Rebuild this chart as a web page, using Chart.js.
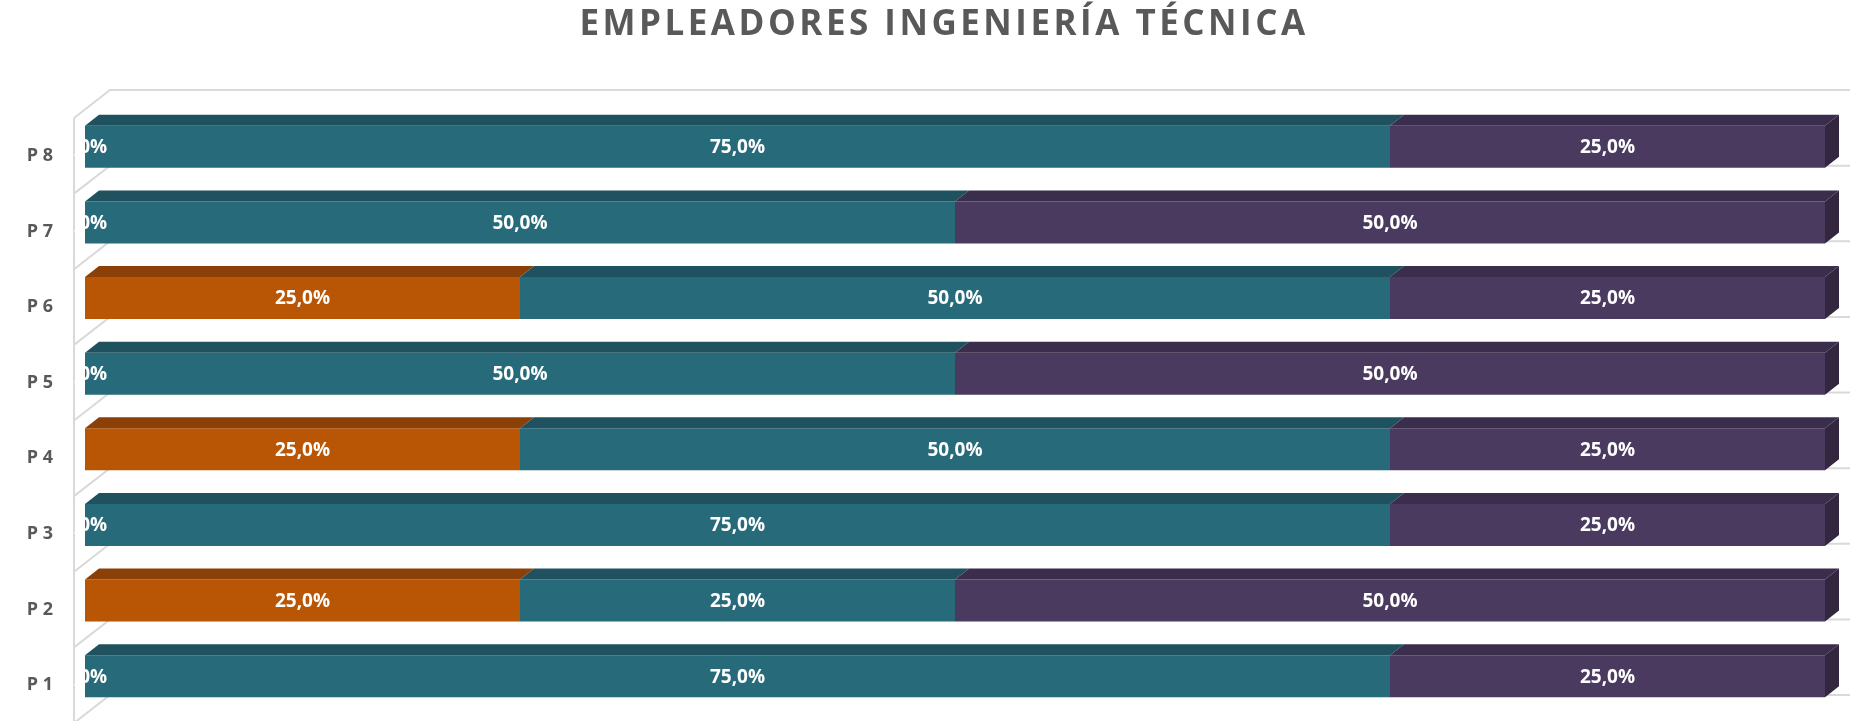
<!DOCTYPE html>
<html>
<head>
<meta charset="utf-8">
<script src="https://cdn.jsdelivr.net/npm/chart.js@4/dist/chart.umd.min.js"></script>
<style>
  html, body { margin: 0; padding: 0; background: #fff; }
  #wrap { width: 1850px; height: 721px; }
</style>
</head>
<body>
<div id="wrap"><canvas id="chart"></canvas></div>
<script>
// Data
const categories = ['P 1', 'P 2', 'P 3', 'P 4', 'P 5', 'P 6', 'P 7', 'P 8'];
const serieNaranja = [0, 25, 0, 25, 0, 25, 0, 0];
const serieVerde = [75, 25, 75, 50, 50, 50, 50, 75];
const serieMorada = [25, 50, 25, 25, 50, 25, 50, 25];

const TITLE = 'EMPLEADORES INGENIERÍA TÉCNICA';

// colores: frente, cara superior, lateral
const COLORS = [
    { front: '#b85606', top: '#8a4006', side: '#7a3905' },
    { front: '#276a7a', top: '#1f525e', side: '#1b4650' },
    { front: '#4b3a60', top: '#3b2d4c', side: '#33273f' }
];
const DEPTH = { dx: 14, dy: 11 };        // profundidad de las barras
const WALL = { dx: 36, dy: 28, off: 9 }; // profundidad del fondo

const fmt = v => v.toFixed(1).replace('.', ',') + '%';

// Fondo 3D (pared izquierda + lineas de separacion)
const wallPlugin = {
    id: 'wall',
    beforeDatasetsDraw(chart) {
        const { ctx, chartArea: a } = chart;
        const n = categories.length;
        const band = (a.bottom - a.top) / n;
        const xf = a.left - 11;
        ctx.save();
        ctx.strokeStyle = '#d9d9d9';
        ctx.lineWidth = 2;
        ctx.beginPath();
        ctx.moveTo(xf, a.top + WALL.off);
        ctx.lineTo(xf, chart.height + 5);
        for (let k = 0; k <= n; k++) {
            const yf = a.top + WALL.off + k * band;
            ctx.moveTo(xf, yf);
            ctx.lineTo(xf + WALL.dx, yf - WALL.dy);
            ctx.lineTo(chart.width + 5, yf - WALL.dy);
        }
        ctx.stroke();
        ctx.restore();
    }
};

// Caras superiores y lateral de las barras
const bars3dPlugin = {
    id: 'bars3d',
    afterDatasetsDraw(chart) {
        const { ctx } = chart;
        const last = chart.data.datasets.length - 1;
        ctx.save();
        chart.data.datasets.forEach((ds, di) => {
            const meta = chart.getDatasetMeta(di);
            meta.data.forEach(bar => {
                const x0 = Math.min(bar.base, bar.x), x1 = Math.max(bar.base, bar.x);
                const top = bar.y - bar.height / 2, bottom = bar.y + bar.height / 2;
                if (x1 - x0 > 0.5) {
                    ctx.fillStyle = COLORS[di].top;
                    ctx.beginPath();
                    ctx.moveTo(x0, top);
                    ctx.lineTo(x1, top);
                    ctx.lineTo(x1 + DEPTH.dx, top - DEPTH.dy);
                    ctx.lineTo(x0 + DEPTH.dx, top - DEPTH.dy);
                    ctx.closePath();
                    ctx.fill();
                }
                if (di === last) {
                    ctx.fillStyle = COLORS[di].side;
                    ctx.beginPath();
                    ctx.moveTo(x1, top);
                    ctx.lineTo(x1 + DEPTH.dx, top - DEPTH.dy);
                    ctx.lineTo(x1 + DEPTH.dx, bottom - DEPTH.dy);
                    ctx.lineTo(x1, bottom);
                    ctx.closePath();
                    ctx.fill();
                }
            });
        });
        ctx.restore();
    }
};

// Etiquetas de datos, categorias y titulo
const labelsPlugin = {
    id: 'labels',
    afterDraw(chart) {
        const { ctx } = chart;
        const yScale = chart.scales.y;
        ctx.save();
        ctx.textBaseline = 'middle';

        ctx.fillStyle = '#ffffff';
        ctx.font = 'bold 19px "Open Sans"';
        ctx.textAlign = 'center';
        chart.data.datasets.forEach((ds, di) => {
            chart.getDatasetMeta(di).data.forEach((bar, i) => {
                ctx.fillText(fmt(ds.data[i]), (bar.base + bar.x) / 2, bar.y + 1);
            });
        });

        ctx.fillStyle = '#595959';
        ctx.font = 'bold 18px "Open Sans"';
        ctx.textAlign = 'right';
        categories.forEach((c, i) => {
            ctx.fillText(c, 53, yScale.getPixelForValue(i) + 9);
        });

        ctx.textAlign = 'center';
        ctx.font = 'bold 35px "Open Sans"';
        ctx.letterSpacing = '3.5px';
        ctx.fillText(TITLE, 944, 25);
        ctx.restore();
    }
};

const chart = new Chart(document.getElementById('chart'), {
    type: 'bar',
    data: {
        labels: categories,
        datasets: [
            { label: 'Naranja', data: serieNaranja, backgroundColor: COLORS[0].front },
            { label: 'Verde', data: serieVerde, backgroundColor: COLORS[1].front },
            { label: 'Morada', data: serieMorada, backgroundColor: COLORS[2].front }
        ]
    },
    options: {
        indexAxis: 'y',
        responsive: true,
        maintainAspectRatio: false,
        animation: false,
        layout: { padding: { top: 109, bottom: 7, right: 25, left: 0 } },
        datasets: { bar: { categoryPercentage: 1, barPercentage: 0.556 } },
        plugins: { legend: { display: false }, tooltip: { enabled: false } },
        scales: {
            x: { stacked: true, min: 0, max: 100, display: false },
            y: {
                stacked: true,
                reverse: true,
                border: { display: false },
                grid: { display: false, drawTicks: false },
                ticks: { display: false },
                afterFit(scale) { scale.width = 85; }
            }
        }
    },
    plugins: [wallPlugin, bars3dPlugin, labelsPlugin]
});
</script>
</body>
</html>
